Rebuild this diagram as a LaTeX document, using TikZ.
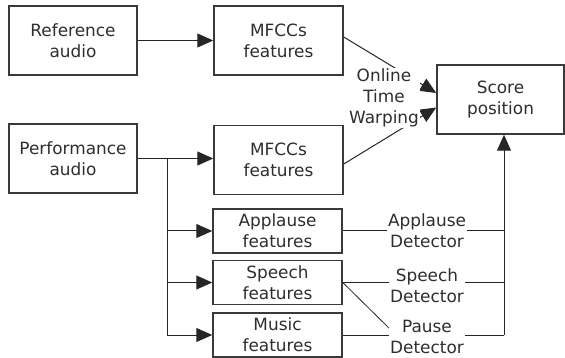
\documentclass[tikz,border=0pt]{standalone}
\usepackage{fontspec}
\setmainfont{DejaVu Sans}
\usetikzlibrary{arrows.meta,calc}
\definecolor{boxc}{HTML}{3A3A3A}
\definecolor{txt}{HTML}{2E2E2E}
\definecolor{linec}{HTML}{262626}
\newcommand\fsz{\fontsize{16.9pt}{21pt}\selectfont}
\begin{document}
\begin{tikzpicture}[x=1pt,y=-1pt,
  box/.style={draw=boxc, line width=1.5pt, fill=white, text=txt, align=center, inner sep=0pt, font=\fsz},
  big/.style={box, minimum width=128pt, minimum height=69pt},
  small/.style={box, minimum width=129pt, minimum height=44pt},
  lbl/.style={fill=white, text=txt, align=center, inner sep=1.5pt, font=\fsz},
  conn/.style={draw=linec, line width=1pt},
  arr/.style={conn, -{Triangle[length=16pt,width=14pt]}},
]
\useasboundingbox (0,0) rectangle (565,358);

\node[big] (ref) at (73,40.5) {Reference\\audio};
\node[big, minimum width=129pt] (mf1) at (278.5,40.5) {MFCCs\\features};
\node[big] (perf) at (73,158.5) {Performance\\audio};
\node[big, minimum width=129pt] (mf2) at (278.5,160) {MFCCs\\features};
\node[big, minimum width=127pt] (score) at (500.5,99.5) {Score\\position};

\node[small] (app) at (277.5,231) {Applause\\features};
\node[small] (sp) at (277.5,282.5) {Speech\\features};
\node[small] (mu) at (277.5,335) {Music\\features};

% audio to features
\draw[arr] (ref) -- (mf1);
\coordinate (br) at (167,158.5);
\draw[arr] (perf.east) -- (mf2.west |- perf.east);
\draw[conn] (br) -- (br |- mu.west);
\draw[arr] (br |- app.west) -- (app.west);
\draw[arr] (br |- sp.west) -- (sp.west);
\draw[arr] (br |- mu.west) -- (mu.west);

% online time warping
\draw[arr] ($(mf1.east)+(0,-3.5)$) -- ($(score.west)+(0,-6.5)$);
\draw[arr] ($(mf2.east)+(0,4)$) -- ($(score.west)+(0,8)$);
\node[lbl, inner sep=1pt] (otw) at (384,98) {Online\\Time\\Warping};

% detectors
\coordinate (rj) at (504,335);
\draw[conn] (app.east) -- (app.east -| rj);
\draw[conn] (sp.east) -- (sp.east -| rj);
\draw[conn] (mu.east) -- (rj);
\draw[arr] (rj) -- (rj |- score.south);
\coordinate (pz) at (396,335);
\draw[conn, line width=0.8pt] (sp.east) -- (pz);
\node[lbl] (ad) at (427,231) {Applause\\Detector};
\node[lbl] (sd) at (427,285.5) {Speech\\Detector};
\node[lbl] (pd) at (427,336.5) {Pause\\Detector};
\end{tikzpicture}
\end{document}
